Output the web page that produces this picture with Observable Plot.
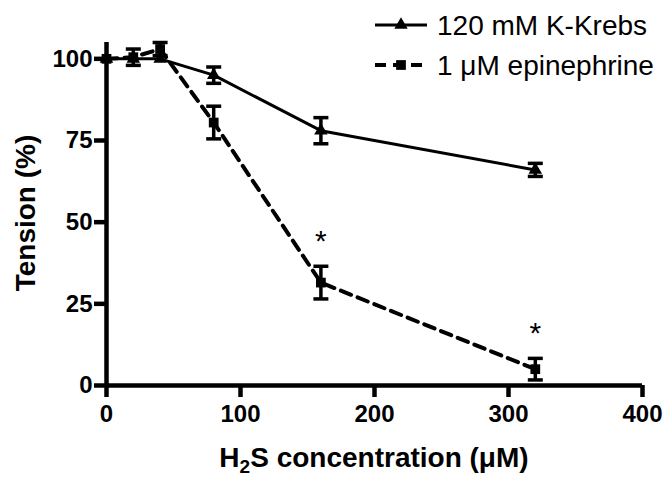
<!DOCTYPE html>
<html>
<head>
<meta charset="utf-8">
<script src="https://cdn.jsdelivr.net/npm/d3@7"></script>
<script src="https://cdn.jsdelivr.net/npm/@observablehq/plot@0.6"></script>
<style>
  html, body { margin: 0; padding: 0; background: #fff; }
</style>
</head>
<body>
<div id="chart"></div>
<script>
// ---- data ----
const conc = [0, 20, 40, 80, 160, 320];            // H2S concentration (µM)
const kKrebs = [100, 100, 100, 95, 78, 66];         // 120 mM K-Krebs, tension %
const kKrebsErr = [0, 0, 0, 2.5, 4, 2];
const epi = [100, 100.5, 103, 80.5, 31.5, 5];       // 1 µM epinephrine, tension %
const epiErr = [0, 2.5, 2, 5, 5, 3.3];
const starX = [160, 320];                           // significance markers
const starY = [44, 16];
const xTicks = [0, 100, 200, 300, 400];
const yTicks = [0, 25, 50, 75, 100];
const seriesNames = ["120 mM K-Krebs", "1 \u03BCM epinephrine"];

const kRows = conc.map((c, i) => ({x: c, y: kKrebs[i], lo: kKrebs[i] - kKrebsErr[i], hi: kKrebs[i] + kKrebsErr[i], err: kKrebsErr[i]}));
const eRows = conc.map((c, i) => ({x: c, y: epi[i], lo: epi[i] - epiErr[i], hi: epi[i] + epiErr[i], err: epiErr[i]}));
const stars = starX.map((x, i) => ({x, y: starY[i]}));

const cap = {draw(ctx) { ctx.moveTo(-7.5, 0); ctx.lineTo(7.5, 0); }};
const errMarks = (rows) => {
  const r = rows.filter(d => d.err > 0);
  return [
    Plot.ruleX(r, {x: "x", y1: "lo", y2: "hi", stroke: "black", strokeWidth: 3.5}),
    Plot.dot(r, {x: "x", y: "hi", symbol: cap, fill: "none", stroke: "black", strokeWidth: 3.5}),
    Plot.dot(r, {x: "x", y: "lo", symbol: cap, fill: "none", stroke: "black", strokeWidth: 3.5})
  ];
};

const W = 671, H = 480;
const chart = Plot.plot({
  width: W, height: H,
  marginLeft: 106, marginRight: 29, marginTop: 42, marginBottom: 95,
  style: {font: "bold 24px 'Liberation Sans', Arial, sans-serif", background: "#fff", overflow: "visible"},
  x: {domain: [0, 400]},
  y: {domain: [0, 105]},
  marks: [
    Plot.line(eRows, {x: "x", y: "y", stroke: "black", strokeWidth: 4, strokeDasharray: "11,7"}),
    Plot.line(kRows, {x: "x", y: "y", stroke: "black", strokeWidth: 3}),
    ...errMarks(kRows),
    ...errMarks(eRows),
    Plot.dot(kRows, {x: "x", y: "y", symbol: "triangle", r: 5, fill: "black"}),
    Plot.dot(eRows, {x: "x", y: "y", symbol: "square", r: 5.5, fill: "black"}),
    Plot.text(stars, {x: "x", y: "y", text: () => "*", fontSize: 30, fontWeight: "normal"}),
    Plot.ruleX([0], {stroke: "black", strokeWidth: 4.5}),
    Plot.ruleY([0], {stroke: "black", strokeWidth: 4.5}),
    Plot.axisX({ticks: xTicks, tickSize: 12, tickPadding: 7, strokeWidth: 4.5, label: null, tickFormat: d => d}),
    Plot.axisY({ticks: yTicks, tickSize: 12, tickPadding: 2, strokeWidth: 4.5, label: null, tickFormat: d => d})
  ]
});
document.getElementById("chart").appendChild(chart);

// ---- titles and legend ----
const svg = d3.select(chart);
const font = "'Liberation Sans', Arial, sans-serif";
svg.append("text")
  .attr("transform", "translate(25,213) rotate(-90)")
  .attr("text-anchor", "middle").attr("dy", "0.35em")
  .style("font", `bold 28px ${font}`)
  .text("Tension (%)");
const xt = svg.append("text")
  .attr("x", 374).attr("y", 467)
  .attr("text-anchor", "middle")
  .style("font", `bold 28px ${font}`);
xt.append("tspan").text("H");
xt.append("tspan").attr("dy", 6).style("font-size", "19px").text("2");
xt.append("tspan").attr("dy", -6).text("S concentration (\u03BCM)");

const leg = svg.append("g");
const rowsL = [{y: 25, dash: null, sym: d3.symbolTriangle, name: seriesNames[0], sw: 3},
               {y: 65, dash: "11,7", sym: d3.symbolSquare, name: seriesNames[1], sw: 4}];
rowsL.forEach(r => {
  leg.append("line").attr("x1", 375).attr("x2", 427).attr("y1", r.y).attr("y2", r.y)
    .attr("stroke", "black").attr("stroke-width", r.sw).attr("stroke-dasharray", r.dash);
  leg.append("path").attr("d", d3.symbol(r.sym, r.sym === d3.symbolSquare ? 95 : 78)())
    .attr("transform", `translate(401,${r.y})`).attr("fill", "black");
  leg.append("text").attr("x", 437).attr("y", r.y).attr("dy", "0.36em")
    .attr("text-anchor", "start")
    .style("font", `normal 28px ${font}`).text(r.name);
});
</script>
</body>
</html>
